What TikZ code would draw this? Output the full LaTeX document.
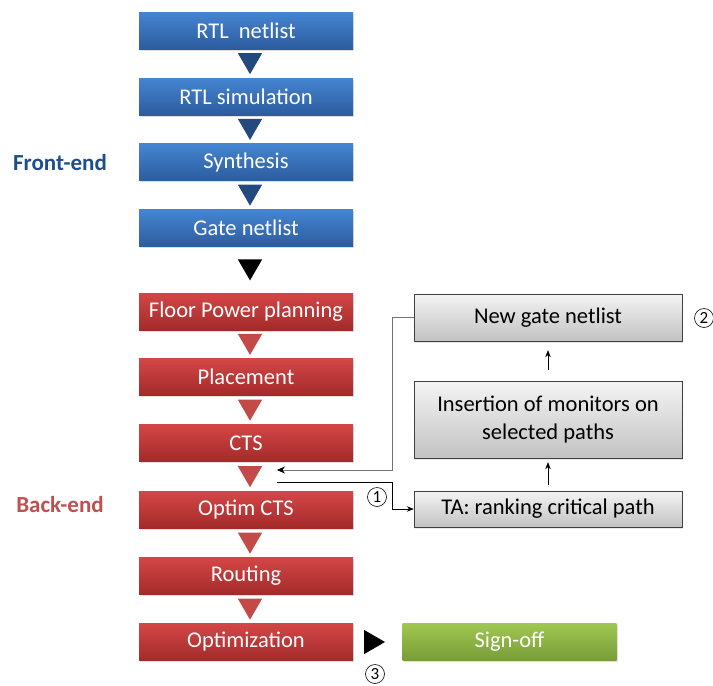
\documentclass[tikz,border=0pt]{standalone}
\usepackage{fontspec}
\setmainfont{Carlito}
\usetikzlibrary{shapes.geometric,arrows.meta,shadows,calc}
\definecolor{blueTop}{HTML}{4585D2}
\definecolor{blueBot}{HTML}{2C5C9E}
\definecolor{redTop}{HTML}{D44646}
\definecolor{redBot}{HTML}{A32A2A}
\definecolor{greenTop}{HTML}{A0C750}
\definecolor{greenBot}{HTML}{789C38}
\definecolor{grayTop}{HTML}{F4F4F4}
\definecolor{grayBot}{HTML}{C2C2C2}
\definecolor{triBlue}{HTML}{23497E}
\definecolor{triRed}{HTML}{C44A47}
\definecolor{frontText}{HTML}{1F4E8C}
\definecolor{backText}{HTML}{C0504D}
\begin{document}
\begin{tikzpicture}[x=1pt,y=-1pt,>={Stealth[length=7pt,width=5.5pt]}]
    \tikzset{
        flowbox/.style={
            minimum width=214pt,
            minimum height=37pt,
            inner sep=0pt,
            text=white,
            font=\fontsize{22.5}{27}\selectfont,
            drop shadow={shadow xshift=1pt,shadow yshift=-1.5pt,opacity=0.25}
        },
        frontbox/.style={flowbox,top color=blueTop,bottom color=blueBot},
        backbox/.style={flowbox,top color=redTop,bottom color=redBot},
        signbox/.style={flowbox,top color=greenTop,bottom color=greenBot},
        monbox/.style={
            draw=black!75,
            minimum width=268pt,
            inner sep=0pt,
            align=center,
            font=\fontsize{22.5}{28}\selectfont,
            top color=grayTop,bottom color=grayBot,
            drop shadow={shadow xshift=1pt,shadow yshift=-1.5pt,opacity=0.2}
        },
        downtri/.style={
            regular polygon,
            regular polygon sides=3,
            shape border rotate=180,
            minimum size=28pt,
            inner sep=0pt
        },
        stepnum/.style={
            circle,
            draw,
            semithick,
            minimum size=19pt,
            inner sep=0pt,
            font=\fontsize{17}{17}\selectfont
        },
        phase/.style={font=\fontsize{23}{27}\selectfont\bfseries}
    }
    \useasboundingbox (0,0) rectangle (713,686);

    % front-end flow
    \node[frontbox] (rtl) at (246,30.5) {RTL\ \ netlist};
    \node[frontbox] (sim) at (246,96.5) {RTL simulation};
    \node[frontbox] (syn) at (246,162) {Synthesis};
    \node[frontbox] (gate) at (246,228) {Gate netlist};

    % back-end flow
    \node[backbox] (floor) at (246,311.5) {Floor Power planning};
    \node[backbox] (place) at (246,377) {Placement};
    \node[backbox] (cts) at (246,443) {CTS};
    \node[backbox] (optcts) at (246,510) {Optim CTS};
    \node[backbox] (route) at (246,576) {Routing};
    \node[backbox] (optim) at (246,642) {Optimization};
    \node[signbox] (sign) at (509.5,642) {Sign-off};

    \foreach \a/\b/\c in {rtl/sim/triBlue,sim/syn/triBlue,syn/gate/triBlue,
        gate/floor/black,floor/place/triRed,place/cts/triRed,
        cts/optcts/triRed,optcts/route/triRed,route/optim/triRed}
        \node[downtri,fill=\c,xshift=4pt,yshift=3.3pt] (tri-\a)
            at ($(\a.south)!0.5!(\b.north)$) {};
    \node[downtri,fill=black,shape border rotate=-90] (tri-sign) at (371,642) {};

    % monitor insertion loop
    \node[monbox,minimum height=47pt] (newnet) at (548,317.5) {New gate netlist};
    \node[monbox,minimum height=77pt] (insert) at (548,419.5)
        {Insertion of monitors on\\selected paths};
    \node[monbox,minimum height=36pt] (ta) at (548,509) {TA: ranking critical path};

    \coordinate (taout) at (277,482);
    \coordinate (fbin) at (277,470);
    \draw[->,semithick] (taout) -- ++(115,0) |- (ta.west);
    \draw[->,shorten <=6pt,shorten >=4pt] (ta.north) -- (insert.south);
    \draw[->,shorten <=11pt,shorten >=9pt] (insert.north) -- (newnet.south);
    \draw[-{Stealth[length=8pt,width=7pt,color=black]},draw=black!55,semithick]
        (newnet.west) -- ++(-22,0) |- (fbin);

    \node[stepnum] (n1) at (377,497) {1};
    \node[stepnum] (n2) at (704,318) {2};
    \node[stepnum] (n3) at (375,674) {3};

    \node[phase,text=frontText] (front) at (60,163) {Front-end};
    \node[phase,text=backText] (back) at (60,505) {Back-end};
\end{tikzpicture}
\end{document}
